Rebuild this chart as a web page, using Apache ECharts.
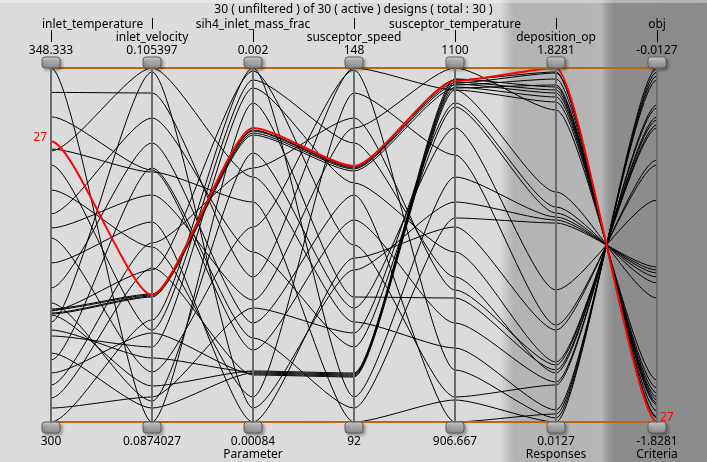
<!DOCTYPE html>
<html>
<head>
<meta charset="utf-8">
<script src="https://cdn.jsdelivr.net/npm/echarts@6/dist/echarts.min.js"></script>
<style>
  html, body { margin: 0; padding: 0; background: #dcdcdc; }
  #chart { width: 707px; height: 462px; }
</style>
</head>
<body>
<div id="chart"></div>
<script>
// axes
const dimNames = ['inlet_temperature', 'inlet_velocity', 'sih4_inlet_mass_frac', 'susceptor_speed',
  'susceptor_temperature', 'deposition_op', 'obj'];
const axisMin = [300, 0.0874027, 0.00084, 92, 906.667, 0.0127, -1.8281];
const axisMax = [348.333, 0.105397, 0.002, 148, 1100, 1.8281, -0.0127];
const minLabels = ['300', '0.0874027', '0.00084', '92', '906.667', '0.0127', '-1.8281'];
const maxLabels = ['348.333', '0.105397', '0.002', '148', '1100', '1.8281', '-0.0127'];
const groupLabels = ['', '', 'Parameter', '', '', 'Responses', 'Criteria'];

// designs 1..30
const inletTemperature = [348.333, 345, 341.667, 337.27, 337, 335.09, 331.68, 328.4, 325.12, 321.71,
  318.3, 316.25, 315.16, 326.49, 313.65, 311.74, 308.47, 305.05, 301.91, 300,
  315.43, 315.29, 314.61, 312.56, 314.88, 309.42, 338.333, 314.75, 306.69, 303.28];
const inletVelocity = [0.0874027, 0.104126, 0.100212, 0.10011, 0.105397, 0.092079, 0.096298, 0.102855, 0.089944, 0.097569,
  0.101585, 0.08847, 0.095129, 0.098941, 0.105194, 0.091215, 0.100314, 0.096501, 0.088673, 0.092587,
  0.093909, 0.093858, 0.089232, 0.090656, 0.093807, 0.088114, 0.093858, 0.093756, 0.091927, 0.095231];
const sih4InletMassFrac = [0.0018853, 0.0013152, 0.0010759, 0.0015609, 0.0016428, 0.0019607, 0.0009219, 0.0013971, 0.001479, 0.00084,
  0.0011644, 0.0017215, 0.0019902, 0.0012398, 0.0008859, 0.0019345, 0.0011153, 0.0016723, 0.0012136, 0.002,
  0.0017968, 0.0017936, 0.0010071, 0.0010039, 0.001787, 0.0010006, 0.0018034, 0.0017805, 0.0009973, 0.000994];
const susceptorSpeed = [111.77, 148, 123.95, 92, 107.82, 136.14, 144.05, 103.86, 147.68, 117.94,
  127.91, 110.03, 120, 138.51, 116.04, 129.81, 94.21, 140.09, 106.08, 95.96,
  132.34, 132.18, 99.75, 99.59, 132.02, 99.43, 132.5, 131.71, 99.27, 99.12];
const susceptorTemperature = [974.39, 1087.98, 960.73, 918.68, 947.08, 985.86, 1052.49, 1078.7, 935.07, 1013.16,
  906.667, 1067.23, 920.32, 1100, 1026.82, 999.51, 1018.08, 978.76, 1080.89, 1040.47,
  1093.45, 1091.81, 1093.99, 1092.35, 1090.72, 1091.26, 1092.9, 1089.08, 1089.62, 1087.98];
const depositionOp = [0.2794, 1.1922, 0.2178, 0.0127, 0.0743, 0.264, 0.5102, 1.0845, 0.0332, 0.4845,
  0.0537, 0.6896, 0.2025, 1.6127, 1.0486, 0.3204, 1.0332, 0.305, 1.1153, 1.064,
  1.8076, 1.8025, 1.7307, 1.7153, 1.7717, 1.6999, 1.8281, 1.7409, 1.6794, 1.6537];
const obj = [-0.2794, -1.1922, -0.2178, -0.0127, -0.0743, -0.264, -0.5102, -1.0845, -0.0332, -0.4845,
  -0.0537, -0.6896, -0.2025, -1.6127, -1.0486, -0.3204, -1.0332, -0.305, -1.1153, -1.064,
  -1.8076, -1.8025, -1.7307, -1.7153, -1.7717, -1.6999, -1.8281, -1.7409, -1.6794, -1.6537];
const highlighted = 26; // design 27

const rows = inletTemperature.map((v, i) => [v, inletVelocity[i], sih4InletMassFrac[i], susceptorSpeed[i],
  susceptorTemperature[i], depositionOp[i], obj[i]]);

const FONT = '12px "Noto Sans"';
const chart = echarts.init(document.getElementById('chart'));

// parallel coordinate system of the chart (positions come from its axes)
const coordSys = () => chart.getModel().getComponent('parallel').coordinateSystem;

const renderCurve = (params, api) => {
  const cs = coordSys();
  const pts = dimNames.map((n, d) => cs.dataToPoint(api.value(d), 'dim' + d));
  let path = 'M' + pts[0][0] + ' ' + pts[0][1];
  for (let k = 1; k < pts.length; k++) {
    const [x0, y0] = pts[k - 1];
    const [x1, y1] = pts[k];
    const c = (x1 - x0) * 0.22;
    path += ' C' + (x0 + c) + ' ' + y0 + ' ' + (x1 - c) + ' ' + y1 + ' ' + x1 + ' ' + y1;
  }
  const isRed = params.dataIndex === highlighted;
  const children = [{
    type: 'path',
    shape: { pathData: path },
    z2: isRed ? 50 : 10,
    style: { fill: 'none', stroke: isRed ? '#ff0000' : '#000000', lineWidth: isRed ? 2 : 1 }
  }];
  if (isRed) {
    const first = pts[0], last = pts[pts.length - 1];
    children.push({
      type: 'text', x: first[0] - 4, y: first[1] - 4, z2: 51,
      style: { text: String(highlighted + 1), fill: '#ff0000', font: FONT, align: 'right', verticalAlign: 'middle' }
    });
    children.push({
      type: 'text', x: last[0] + 3, y: last[1] - 4, z2: 51,
      style: { text: String(highlighted + 1), fill: '#ff0000', font: FONT, align: 'left', verticalAlign: 'middle' }
    });
  }
  return { type: 'group', children };
};

const handleFill = () => new echarts.graphic.LinearGradient(0, 0, 0, 1, [
  { offset: 0, color: '#e4e4e4' },
  { offset: 0.45, color: '#a8a8a8' },
  { offset: 1, color: '#868686' }
]);

const handle = (x, y) => ({
  type: 'rect', z2: 20,
  shape: { x: x - 9, y: y, width: 18, height: 11, r: 3 },
  style: {
    fill: handleFill(), stroke: '#5c5c5c', lineWidth: 1,
    shadowBlur: 3, shadowOffsetX: 2, shadowOffsetY: 2, shadowColor: 'rgba(0,0,0,0.3)'
  }
});

const label = (text, x, y, align) => ({
  type: 'text', x, y, z2: 30,
  style: { text, fill: '#000', font: FONT, align: align || 'center', verticalAlign: 'middle' }
});

const tickLine = (x, y1, y2) => ({
  type: 'line', z2: 30,
  shape: { x1: x + 0.5, y1, x2: x + 0.5, y2 },
  style: { stroke: '#000', lineWidth: 1 }
});

const renderAxisDecor = (params, api) => {
  const cs = coordSys();
  const i = api.value(0);
  const top = cs.dataToPoint(axisMax[i], 'dim' + i);
  const bot = cs.dataToPoint(axisMin[i], 'dim' + i);
  const x = Math.round(top[0]);
  const ty = top[1], by = bot[1];
  const children = [];
  if (i === 0) {
    const end = cs.dataToPoint(axisMax[6], 'dim6');
    const endB = cs.dataToPoint(axisMin[6], 'dim6');
    children.push({ type: 'line', z2: 5, shape: { x1: top[0], y1: ty, x2: end[0], y2: end[1] },
      style: { stroke: '#bd650f', lineWidth: 2 } });
    children.push({ type: 'line', z2: 5, shape: { x1: bot[0], y1: by, x2: endB[0], y2: endB[1] },
      style: { stroke: '#bd650f', lineWidth: 2 } });
  }
  const upper = i % 2 === 0;
  if (upper) {
    // first name would run off the left edge, so it starts at the handle
    children.push(i === 0 ? label(dimNames[i], x - 9, ty - 43, 'left') : label(dimNames[i], x, ty - 43));
    children.push(tickLine(x, ty - 38, ty - 26));
  } else {
    children.push(tickLine(x, ty - 50, ty - 39));
    children.push(label(dimNames[i], x, ty - 30));
  }
  children.push(label(maxLabels[i], x, ty - 17));
  children.push(handle(x, ty - 11));
  children.push(handle(x, by));
  children.push(label(minLabels[i], x, by + 20));
  if (groupLabels[i]) children.push(label(groupLabels[i], x, by + 33));
  return { type: 'group', children };
};

const bgGradient = new echarts.graphic.LinearGradient(0, 0, 1, 0, [
  { offset: 0, color: '#dcdcdc' },
  { offset: 500 / 707, color: '#dadada' },
  { offset: 507 / 707, color: '#c4c4c4' },
  { offset: 514 / 707, color: '#b3b3b3' },
  { offset: 590 / 707, color: '#b5b5b5' },
  { offset: 601 / 707, color: '#b8b8b8' },
  { offset: 608 / 707, color: '#9a9a9a' },
  { offset: 614 / 707, color: '#8c8c8c' },
  { offset: 1, color: '#8b8b8b' }
]);

const hiddenLabel = { show: false, fontSize: 1, color: 'rgba(0,0,0,0)', formatter: () => '' };

const option = {
  animation: false,
  graphic: [
    { type: 'rect', left: 0, top: 0, z: -10, silent: true,
      shape: { width: 707, height: 462 }, style: { fill: bgGradient } },
    { type: 'rect', left: 0, top: 0, z: -9, silent: true,
      shape: { width: 707, height: 3 }, style: { fill: 'rgba(255,255,255,0.35)' } }
  ],
  title: {
    text: '30 ( unfiltered ) of 30 ( active ) designs ( total : 30 )',
    left: 'center',
    top: 4,
    padding: 0,
    textStyle: { fontSize: 12, fontWeight: 'normal', color: '#000', fontFamily: 'Noto Sans' }
  },
  parallel: {
    left: 51,
    right: 50,
    top: 68,
    bottom: 40,
    parallelAxisDefault: {
      axisLabel: hiddenLabel,
      axisTick: { show: false }
    }
  },
  parallelAxis: dimNames.map((n, i) => ({
    dim: i,
    name: '',
    min: axisMin[i],
    max: axisMax[i],
    axisLine: { lineStyle: { color: '#6b6b6b', width: 2 } },
    axisTick: { show: false },
    axisLabel: hiddenLabel,
    splitLine: { show: false }
  })),
  series: [
    {
      type: 'parallel',
      data: rows,
      silent: true,
      lineStyle: { opacity: 0 }
    },
    {
      type: 'custom',
      coordinateSystem: 'none',
      silent: true,
      z: 3,
      data: rows,
      renderItem: renderCurve
    },
    {
      type: 'custom',
      coordinateSystem: 'none',
      silent: true,
      z: 4,
      data: dimNames.map((n, i) => [i]),
      renderItem: renderAxisDecor
    }
  ]
};

chart.setOption(option);
</script>
</body>
</html>
